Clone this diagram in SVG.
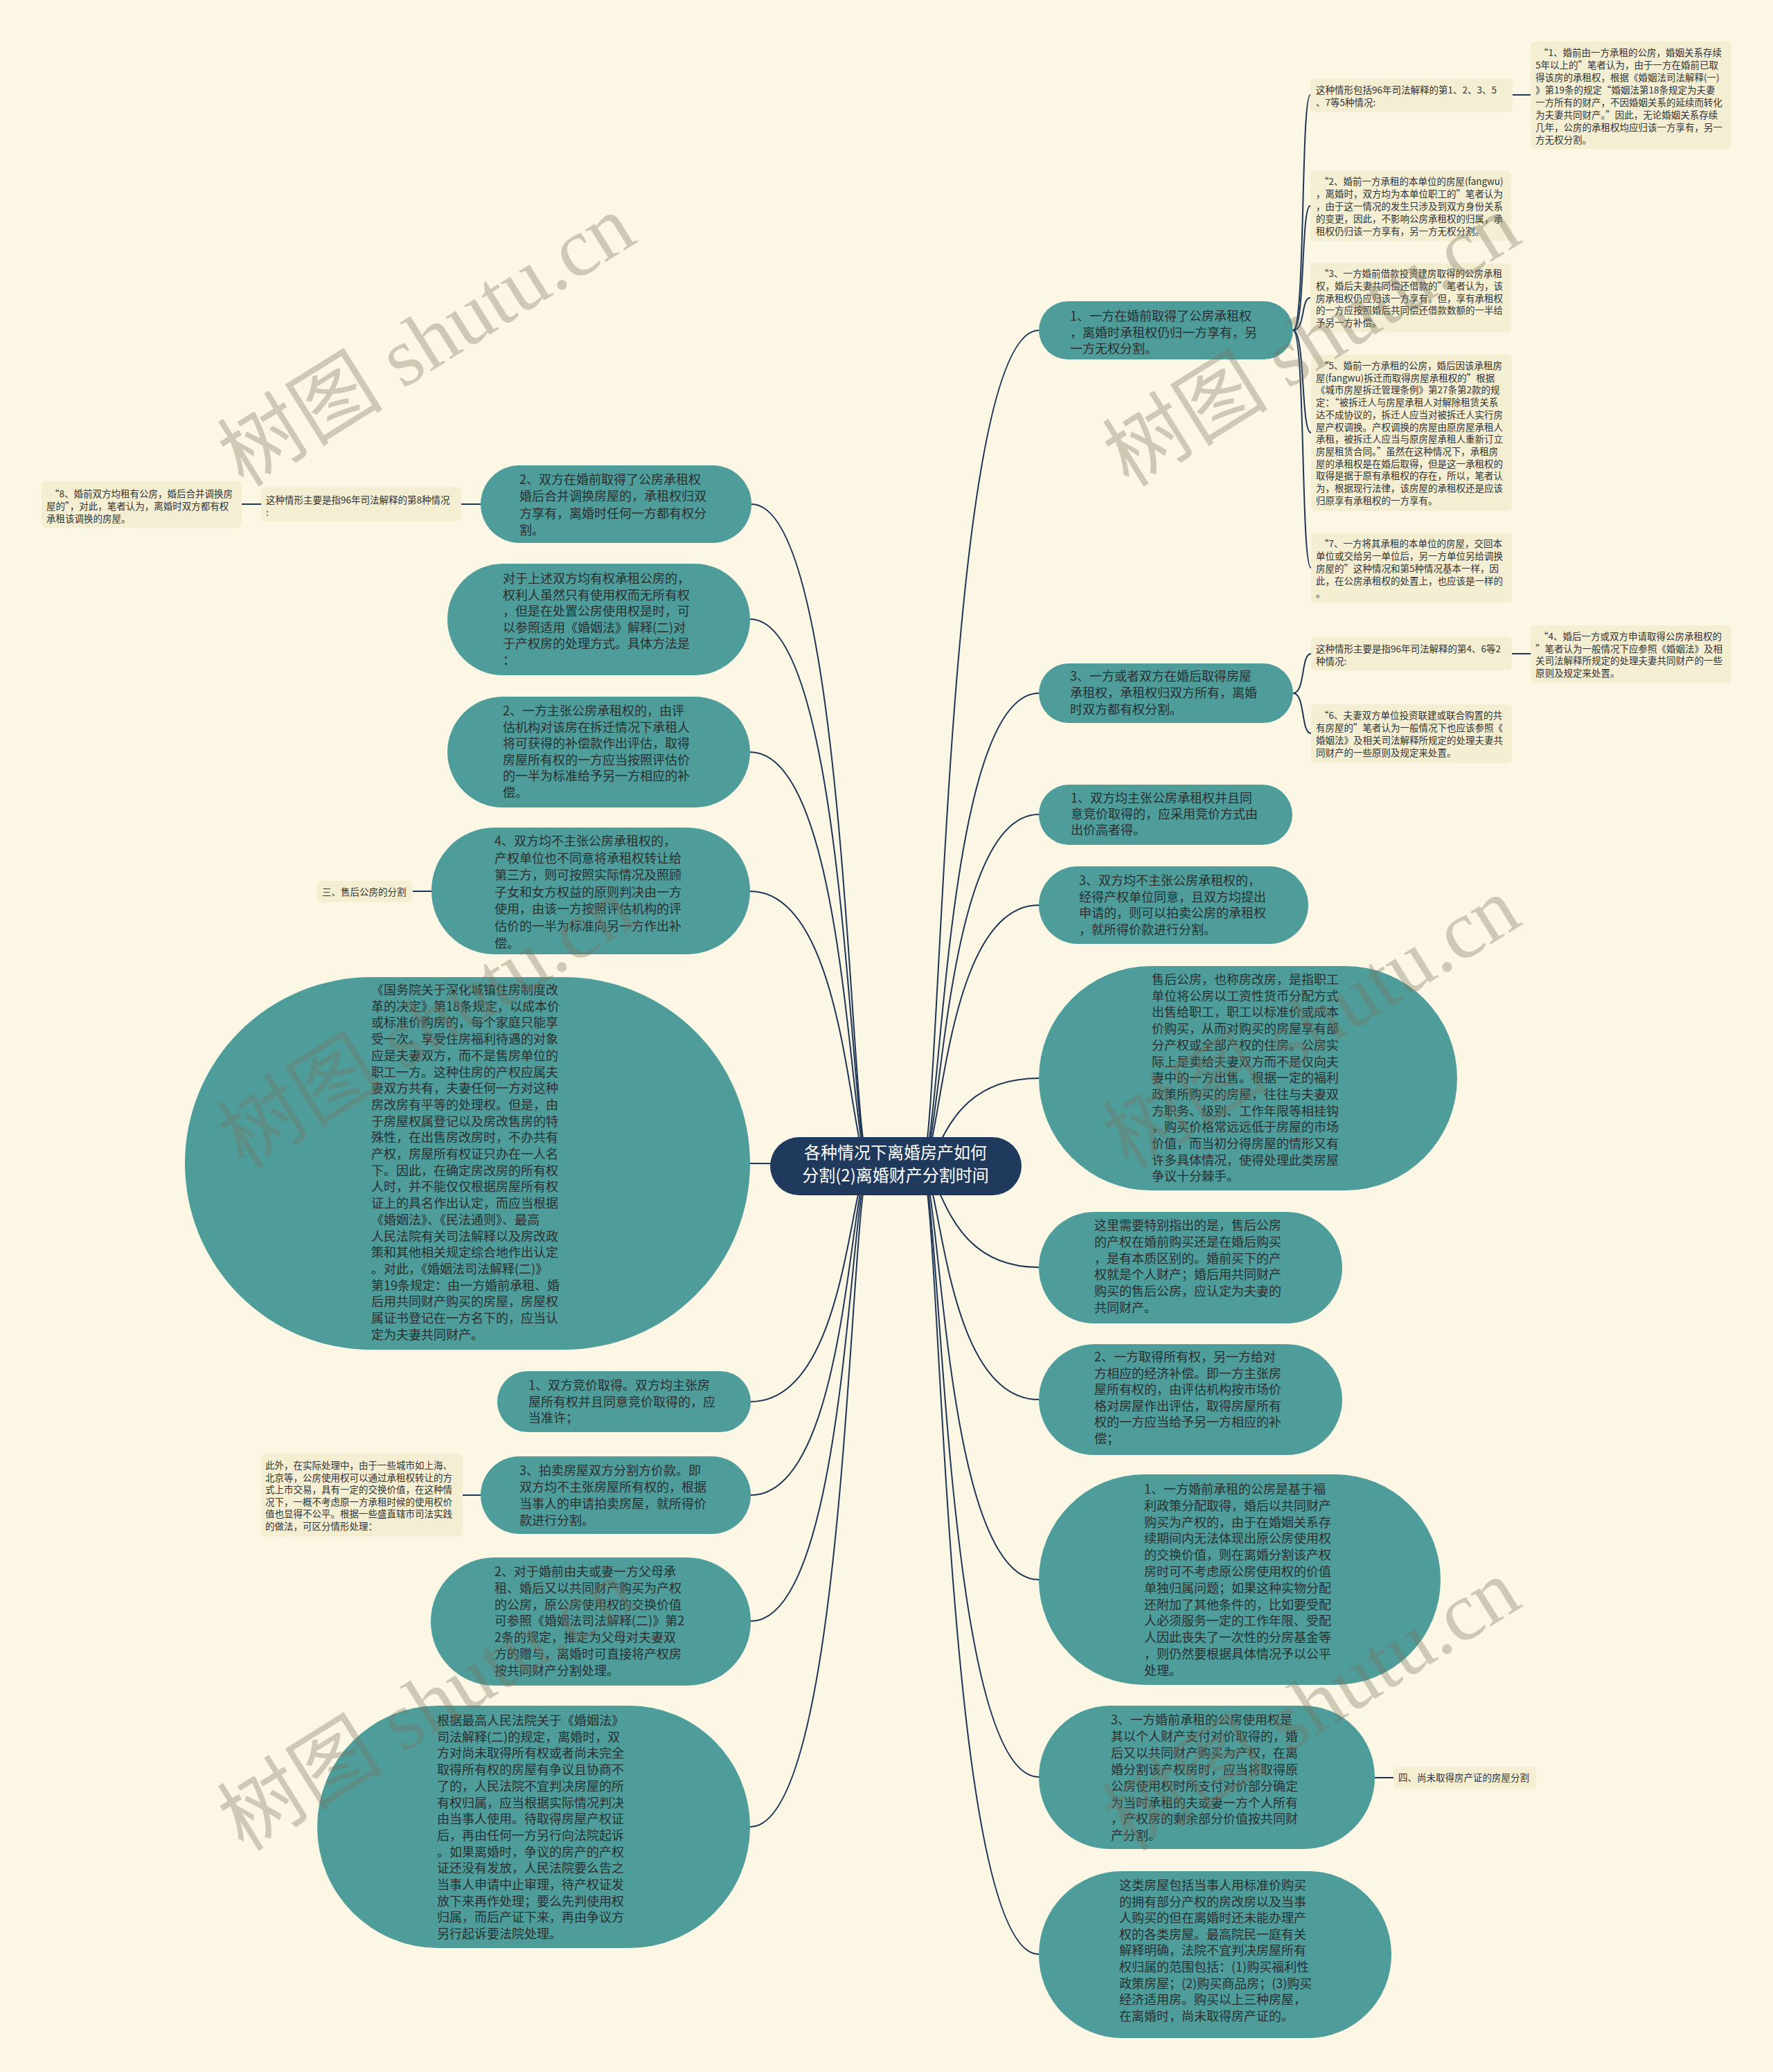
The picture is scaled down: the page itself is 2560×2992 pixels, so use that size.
<svg xmlns="http://www.w3.org/2000/svg" width="2560" height="2992" viewBox="0 0 2560 2992">
<style>
.bg{fill:#FBF7E4}
.teal{fill:#4E9D9B}
.lite{fill:#F4EFD3}
.ln{fill:none;stroke:#1E3556;stroke-width:2}
.t{font-family:"Noto Sans CJK SC","Noto Sans",sans-serif;font-size:18px;fill:#2A2F2F}
.s{font-family:"Noto Sans CJK SC","Noto Sans",sans-serif;font-size:13.5px;fill:#333}
.c{font-family:"Noto Sans CJK SC","Noto Sans",sans-serif;font-size:24px;fill:#FFFFFF;text-anchor:middle}
.wm{font-family:"Liberation Serif","Noto Sans CJK SC",serif;font-size:120px;fill:#78735F;fill-opacity:0.35}
</style>
<rect class="bg" x="0" y="0" width="2560" height="2992"/>

<g id="connectors">
<!-- center to right -->
<path class="ln" d="M1330,1684 C1360,1684 1360,477 1500,477"/>
<path class="ln" d="M1330,1684 C1360,1684 1360,1001 1500,1001"/>
<path class="ln" d="M1330,1684 C1360,1684 1360,1176 1500,1176"/>
<path class="ln" d="M1330,1684 C1360,1684 1360,1307 1500,1307"/>
<path class="ln" d="M1330,1684 C1360,1684 1360,1557 1500,1557"/>
<path class="ln" d="M1330,1684 C1360,1684 1360,1830 1500,1830"/>
<path class="ln" d="M1330,1684 C1360,1684 1360,2021 1500,2021"/>
<path class="ln" d="M1330,1684 C1360,1684 1360,2281 1500,2281"/>
<path class="ln" d="M1330,1684 C1360,1684 1360,2566 1500,2566"/>
<path class="ln" d="M1330,1684 C1360,1684 1360,2822 1500,2822"/>
<!-- center to left -->
<path class="ln" d="M1256,1684 C1226,1684 1226,728 1085,728"/>
<path class="ln" d="M1256,1684 C1226,1684 1226,894 1083,894"/>
<path class="ln" d="M1256,1684 C1226,1684 1226,1086 1083,1086"/>
<path class="ln" d="M1256,1684 C1226,1684 1226,1287 1083,1287"/>
<path class="ln" d="M1256,1684 C1226,1684 1226,1680 1083,1680"/>
<path class="ln" d="M1256,1684 C1226,1684 1226,2024 1084,2024"/>
<path class="ln" d="M1256,1684 C1226,1684 1226,2159 1084,2159"/>
<path class="ln" d="M1256,1684 C1226,1684 1226,2341 1084,2341"/>
<path class="ln" d="M1256,1684 C1226,1684 1226,2638 1083,2638"/>
<!-- R1 bracket -->
<path class="ln" d="M1867,477 C1885,477 1878,137 1892,137"/>
<path class="ln" d="M1867,477 C1885,477 1878,297 1892,297"/>
<path class="ln" d="M1867,477 C1885,477 1878,430 1892,430"/>
<path class="ln" d="M1867,477 C1885,477 1878,625 1893,625"/>
<path class="ln" d="M1867,477 C1885,477 1878,820 1893,820"/>
<path class="ln" d="M2184,137 L2210,137"/>
<!-- R3 bracket -->
<path class="ln" d="M1867,1001 C1885,1001 1878,944 1893,944"/>
<path class="ln" d="M1867,1001 C1885,1001 1878,1059 1893,1059"/>
<path class="ln" d="M2183,944 L2210,944"/>
<!-- others -->
<path class="ln" d="M694,728 L666,728"/>
<path class="ln" d="M377,728 L349,728"/>
<path class="ln" d="M623,1287 L596,1287"/>
<path class="ln" d="M694,2159 L668,2159"/>
<path class="ln" d="M1985,2567 L2012,2567"/>
</g>

<g id="center">
<rect x="1112" y="1642" width="363" height="84" rx="42" fill="#1F3A5C"/>
<text class="c" x="1293" y="1673">各种情况下离婚房产如何</text>
<text class="c" x="1293" y="1706">分割(2)离婚财产分割时间</text>
</g>

<g id="r1">
<rect class="teal" x="1500" y="435" width="367" height="84" rx="42"/>
<text class="t" x="1545" y="463"><tspan x="1545">1、一方在婚前取得了公房承租权</tspan><tspan x="1545" dy="23.5">，离婚时承租权仍归一方享有，另</tspan><tspan x="1545" dy="23.5">一方无权分割。</tspan></text>
</g>
<g id="c1a">
<rect class="lite" x="1892" y="113" width="292" height="49" rx="6"/>
<text class="s" x="1900" y="135"><tspan x="1900">这种情形包括96年司法解释的第1、2、3、5</tspan><tspan x="1900" dy="18">、7等5种情况:</tspan></text>
</g>
<g id="c1a1">
<rect class="lite" x="2210" y="60" width="290" height="155" rx="6"/>
<text class="s" x="2217" y="81"><tspan x="2222">“1、婚前由一方承租的公房，婚姻关系存续</tspan><tspan x="2217" dy="18">5年以上的”笔者认为，由于一方在婚前已取</tspan><tspan x="2217" dy="18">得该房的承租权，根据《婚姻法司法解释(一)</tspan><tspan x="2217" dy="18">》第19条的规定“婚姻法第18条规定为夫妻</tspan><tspan x="2217" dy="18">一方所有的财产，不因婚姻关系的延续而转化</tspan><tspan x="2217" dy="18">为夫妻共同财产。”因此，无论婚姻关系存续</tspan><tspan x="2217" dy="18">几年，公房的承租权均应归该一方享有，另一</tspan><tspan x="2217" dy="18">方无权分割。</tspan></text>
</g>
<g id="c1b">
<rect class="lite" x="1892" y="247" width="290" height="101" rx="6"/>
<text class="s" x="1900" y="267"><tspan x="1905">“2、婚前一方承租的本单位的房屋(fangwu)</tspan><tspan x="1900" dy="18">，离婚时，双方均为本单位职工的”笔者认为</tspan><tspan x="1900" dy="18">，由于这一情况的发生只涉及到双方身份关系</tspan><tspan x="1900" dy="18">的变更，因此，不影响公房承租权的归属，承</tspan><tspan x="1900" dy="18">租权仍归该一方享有，另一方无权分割。</tspan></text>
</g>
<g id="c1c">
<rect class="lite" x="1892" y="380" width="290" height="100" rx="6"/>
<text class="s" x="1900" y="400"><tspan x="1905">“3、一方婚前借款投资建房取得的公房承租</tspan><tspan x="1900" dy="17.8">权，婚后夫妻共同偿还借款的”笔者认为，该</tspan><tspan x="1900" dy="17.8">房承租权仍应归该一方享有。但，享有承租权</tspan><tspan x="1900" dy="17.8">的一方应按照婚后共同偿还借款数额的一半给</tspan><tspan x="1900" dy="17.8">予另一方补偿。</tspan></text>
</g>
<g id="c1d">
<rect class="lite" x="1893" y="512" width="290" height="226" rx="6"/>
<text class="s" x="1900" y="533"><tspan x="1905">“5、婚前一方承租的公房，婚后因该承租房</tspan><tspan x="1900" dy="17.7">屋(fangwu)拆迁而取得房屋承租权的”根据</tspan><tspan x="1900" dy="17.7">《城市房屋拆迁管理条例》第27条第2款的规</tspan><tspan x="1900" dy="17.7">定：“被拆迁人与房屋承租人对解除租赁关系</tspan><tspan x="1900" dy="17.7">达不成协议的，拆迁人应当对被拆迁人实行房</tspan><tspan x="1900" dy="17.7">屋产权调换。产权调换的房屋由原房屋承租人</tspan><tspan x="1900" dy="17.7">承租，被拆迁人应当与原房屋承租人重新订立</tspan><tspan x="1900" dy="17.7">房屋租赁合同。”虽然在这种情况下，承租房</tspan><tspan x="1900" dy="17.7">屋的承租权是在婚后取得，但是这一承租权的</tspan><tspan x="1900" dy="17.7">取得是据于原有承租权的存在，所以，笔者认</tspan><tspan x="1900" dy="17.7">为，根据现行法律，该房屋的承租权还是应该</tspan><tspan x="1900" dy="17.7">归原享有承租权的一方享有。</tspan></text>
</g>
<g id="c1e">
<rect class="lite" x="1893" y="770" width="290" height="100" rx="6"/>
<text class="s" x="1900" y="790"><tspan x="1905">“7、一方将其承租的本单位的房屋，交回本</tspan><tspan x="1900" dy="18">单位或交给另一单位后，另一方单位另给调换</tspan><tspan x="1900" dy="18">房屋的”这种情况和第5种情况基本一样，因</tspan><tspan x="1900" dy="18">此，在公房承租权的处置上，也应该是一样的</tspan><tspan x="1900" dy="18">。</tspan></text>
</g>

<g id="r3">
<rect class="teal" x="1500" y="958" width="367" height="86" rx="43"/>
<text class="t" x="1545" y="983"><tspan x="1545">3、一方或者双方在婚后取得房屋</tspan><tspan x="1545" dy="24">承租权，承租权归双方所有，离婚</tspan><tspan x="1545" dy="24">时双方都有权分割。</tspan></text>
</g>
<g id="c3a">
<rect class="lite" x="1893" y="920" width="290" height="48" rx="6"/>
<text class="s" x="1900" y="942"><tspan x="1900">这种情形主要是指96年司法解释的第4、6等2</tspan><tspan x="1900" dy="18">种情况:</tspan></text>
</g>
<g id="c3a1">
<rect class="lite" x="2210" y="903" width="290" height="83" rx="6"/>
<text class="s" x="2217" y="924"><tspan x="2222">“4、婚后一方或双方申请取得公房承租权的</tspan><tspan x="2217" dy="17.7">”笔者认为一般情况下应参照《婚姻法》及相</tspan><tspan x="2217" dy="17.7">关司法解释所规定的处理夫妻共同财产的一些</tspan><tspan x="2217" dy="17.7">原则及规定来处置。</tspan></text>
</g>
<g id="c3b">
<rect class="lite" x="1893" y="1017" width="290" height="85" rx="6"/>
<text class="s" x="1900" y="1038"><tspan x="1905">“6、夫妻双方单位投资联建或联合购置的共</tspan><tspan x="1900" dy="18">有房屋的”笔者认为一般情况下也应该参照《</tspan><tspan x="1900" dy="18">婚姻法》及相关司法解释所规定的处理夫妻共</tspan><tspan x="1900" dy="18">同财产的一些原则及规定来处置。</tspan></text>
</g>

<g id="r4">
<rect class="teal" x="1500" y="1133" width="366" height="87" rx="43.5"/>
<text class="t" x="1546" y="1159"><tspan x="1546">1、双方均主张公房承租权并且同</tspan><tspan x="1546" dy="23">意竞价取得的，应采用竞价方式由</tspan><tspan x="1546" dy="23">出价高者得。</tspan></text>
</g>
<g id="r5">
<rect class="teal" x="1500" y="1251" width="389" height="112" rx="56"/>
<text class="t" x="1558" y="1278"><tspan x="1558">3、双方均不主张公房承租权的，</tspan><tspan x="1558" dy="23.5">经得产权单位同意，且双方均提出</tspan><tspan x="1558" dy="23.5">申请的，则可以拍卖公房的承租权</tspan><tspan x="1558" dy="23.5">，就所得价款进行分割。</tspan></text>
</g>
<g id="r6">
<rect class="teal" x="1500" y="1395" width="604" height="324" rx="162"/>
<text class="t" x="1663" y="1421"><tspan x="1663">售后公房，也称房改房，是指职工</tspan><tspan x="1663" dy="23.7">单位将公房以工资性货币分配方式</tspan><tspan x="1663" dy="23.7">出售给职工，职工以标准价或成本</tspan><tspan x="1663" dy="23.7">价购买，从而对购买的房屋享有部</tspan><tspan x="1663" dy="23.7">分产权或全部产权的住房。公房实</tspan><tspan x="1663" dy="23.7">际上是卖给夫妻双方而不是仅向夫</tspan><tspan x="1663" dy="23.7">妻中的一方出售。根据一定的福利</tspan><tspan x="1663" dy="23.7">政策所购买的房屋，往往与夫妻双</tspan><tspan x="1663" dy="23.7">方职务、级别、工作年限等相挂钩</tspan><tspan x="1663" dy="23.7">，购买价格常远远低于房屋的市场</tspan><tspan x="1663" dy="23.7">价值，而当初分得房屋的情形又有</tspan><tspan x="1663" dy="23.7">许多具体情况，使得处理此类房屋</tspan><tspan x="1663" dy="23.7">争议十分棘手。</tspan></text>
</g>
<g id="r7">
<rect class="teal" x="1500" y="1750" width="438" height="161" rx="80"/>
<text class="t" x="1580" y="1776"><tspan x="1580">这里需要特别指出的是，售后公房</tspan><tspan x="1580" dy="23.8">的产权在婚前购买还是在婚后购买</tspan><tspan x="1580" dy="23.8">，是有本质区别的。婚前买下的产</tspan><tspan x="1580" dy="23.8">权就是个人财产；婚后用共同财产</tspan><tspan x="1580" dy="23.8">购买的售后公房，应认定为夫妻的</tspan><tspan x="1580" dy="23.8">共同财产。</tspan></text>
</g>
<g id="r8">
<rect class="teal" x="1500" y="1941" width="438" height="160" rx="80"/>
<text class="t" x="1580" y="1966"><tspan x="1580">2、一方取得所有权，另一方给对</tspan><tspan x="1580" dy="23.6">方相应的经济补偿。即一方主张房</tspan><tspan x="1580" dy="23.6">屋所有权的，由评估机构按市场价</tspan><tspan x="1580" dy="23.6">格对房屋作出评估，取得房屋所有</tspan><tspan x="1580" dy="23.6">权的一方应当给予另一方相应的补</tspan><tspan x="1580" dy="23.6">偿；</tspan></text>
</g>
<g id="r9">
<rect class="teal" x="1500" y="2129" width="580" height="304" rx="152"/>
<text class="t" x="1652" y="2157"><tspan x="1652">1、一方婚前承租的公房是基于福</tspan><tspan x="1652" dy="23.8">利政策分配取得，婚后以共同财产</tspan><tspan x="1652" dy="23.8">购买为产权的，由于在婚姻关系存</tspan><tspan x="1652" dy="23.8">续期间内无法体现出原公房使用权</tspan><tspan x="1652" dy="23.8">的交换价值，则在离婚分割该产权</tspan><tspan x="1652" dy="23.8">房时可不考虑原公房使用权的价值</tspan><tspan x="1652" dy="23.8">单独归属问题；如果这种实物分配</tspan><tspan x="1652" dy="23.8">还附加了其他条件的，比如要受配</tspan><tspan x="1652" dy="23.8">人必须服务一定的工作年限、受配</tspan><tspan x="1652" dy="23.8">人因此丧失了一次性的分房基金等</tspan><tspan x="1652" dy="23.8">，则仍然要根据具体情况予以公平</tspan><tspan x="1652" dy="23.8">处理。</tspan></text>
</g>
<g id="r10">
<rect class="teal" x="1500" y="2463" width="485" height="207" rx="103"/>
<text class="t" x="1604" y="2490"><tspan x="1604">3、一方婚前承租的公房使用权是</tspan><tspan x="1604" dy="23.9">其以个人财产支付对价取得的，婚</tspan><tspan x="1604" dy="23.9">后又以共同财产购买为产权，在离</tspan><tspan x="1604" dy="23.9">婚分割该产权房时，应当将取得原</tspan><tspan x="1604" dy="23.9">公房使用权时所支付对价部分确定</tspan><tspan x="1604" dy="23.9">为当时承租的夫或妻一方个人所有</tspan><tspan x="1604" dy="23.9">，产权房的剩余部分价值按共同财</tspan><tspan x="1604" dy="23.9">产分割。</tspan></text>
</g>
<g id="r10a">
<rect class="lite" x="2012" y="2551" width="206" height="32" rx="6"/>
<text class="s" x="2019" y="2572">四、尚未取得房产证的房屋分割</text>
</g>
<g id="r11">
<rect class="teal" x="1500" y="2702" width="509" height="241" rx="120"/>
<text class="t" x="1616" y="2729"><tspan x="1616">这类房屋包括当事人用标准价购买</tspan><tspan x="1616" dy="23.6">的拥有部分产权的房改房以及当事</tspan><tspan x="1616" dy="23.6">人购买的但在离婚时还未能办理产</tspan><tspan x="1616" dy="23.6">权的各类房屋。最高院民一庭有关</tspan><tspan x="1616" dy="23.6">解释明确，法院不宜判决房屋所有</tspan><tspan x="1616" dy="23.6">权归属的范围包括：(1)购买福利性</tspan><tspan x="1616" dy="23.6">政策房屋；(2)购买商品房；(3)购买</tspan><tspan x="1616" dy="23.6">经济适用房。购买以上三种房屋，</tspan><tspan x="1616" dy="23.6">在离婚时，尚未取得房产证的。</tspan></text>
</g>

<g id="l1">
<rect class="teal" x="694" y="672" width="391" height="112" rx="56"/>
<text class="t" x="750" y="699"><tspan x="750">2、双方在婚前取得了公房承租权</tspan><tspan x="750" dy="24.3">婚后合并调换房屋的，承租权归双</tspan><tspan x="750" dy="24.3">方享有，离婚时任何一方都有权分</tspan><tspan x="750" dy="24.3">割。</tspan></text>
</g>
<g id="l1a">
<rect class="lite" x="377" y="703" width="289" height="50" rx="6"/>
<text class="s" x="384" y="727"><tspan x="384">这种情形主要是指96年司法解释的第8种情况</tspan><tspan x="384" dy="18">:</tspan></text>
</g>
<g id="l1a1">
<rect class="lite" x="60" y="695" width="289" height="67" rx="6"/>
<text class="s" x="67" y="718"><tspan x="72">“8、婚前双方均租有公房，婚后合并调换房</tspan><tspan x="67" dy="18">屋的”，对此，笔者认为，离婚时双方都有权</tspan><tspan x="67" dy="18">承租该调换的房屋。</tspan></text>
</g>
<g id="l2">
<rect class="teal" x="646" y="814" width="437" height="161" rx="80"/>
<text class="t" x="726" y="842"><tspan x="726">对于上述双方均有权承租公房的，</tspan><tspan x="726" dy="23.6">权利人虽然只有使用权而无所有权</tspan><tspan x="726" dy="23.6">，但是在处置公房使用权是时，可</tspan><tspan x="726" dy="23.6">以参照适用《婚姻法》解释(二)对</tspan><tspan x="726" dy="23.6">于产权房的处理方式。具体方法是</tspan><tspan x="726" dy="23.6">：</tspan></text>
</g>
<g id="l3">
<rect class="teal" x="646" y="1006" width="437" height="160" rx="80"/>
<text class="t" x="726" y="1033"><tspan x="726">2、一方主张公房承租权的，由评</tspan><tspan x="726" dy="23.6">估机构对该房在拆迁情况下承租人</tspan><tspan x="726" dy="23.6">将可获得的补偿款作出评估，取得</tspan><tspan x="726" dy="23.6">房屋所有权的一方应当按照评估价</tspan><tspan x="726" dy="23.6">的一半为标准给予另一方相应的补</tspan><tspan x="726" dy="23.6">偿。</tspan></text>
</g>
<g id="l4">
<rect class="teal" x="623" y="1195" width="460" height="183" rx="91"/>
<text class="t" x="714" y="1221"><tspan x="714">4、双方均不主张公房承租权的，</tspan><tspan x="714" dy="24.6">产权单位也不同意将承租权转让给</tspan><tspan x="714" dy="24.6">第三方，则可按照实际情况及照顾</tspan><tspan x="714" dy="24.6">子女和女方权益的原则判决由一方</tspan><tspan x="714" dy="24.6">使用，由该一方按照评估机构的评</tspan><tspan x="714" dy="24.6">估价的一半为标准向另一方作出补</tspan><tspan x="714" dy="24.6">偿。</tspan></text>
</g>
<g id="l4a">
<rect class="lite" x="458" y="1272" width="138" height="31" rx="6"/>
<text class="s" x="465" y="1293">三、售后公房的分割</text>
</g>
<g id="l5">
<rect class="teal" x="267" y="1411" width="816" height="538" rx="269"/>
<text class="t" x="536" y="1436"><tspan x="536">《国务院关于深化城镇住房制度改</tspan><tspan x="536" dy="23.7">革的决定》第18条规定，以成本价</tspan><tspan x="536" dy="23.7">或标准价购房的，每个家庭只能享</tspan><tspan x="536" dy="23.7">受一次。享受住房福利待遇的对象</tspan><tspan x="536" dy="23.7">应是夫妻双方，而不是售房单位的</tspan><tspan x="536" dy="23.7">职工一方。这种住房的产权应属夫</tspan><tspan x="536" dy="23.7">妻双方共有，夫妻任何一方对这种</tspan><tspan x="536" dy="23.7">房改房有平等的处理权。但是，由</tspan><tspan x="536" dy="23.7">于房屋权属登记以及房改售房的特</tspan><tspan x="536" dy="23.7">殊性，在出售房改房时，不办共有</tspan><tspan x="536" dy="23.7">产权，房屋所有权证只办在一人名</tspan><tspan x="536" dy="23.7">下。因此，在确定房改房的所有权</tspan><tspan x="536" dy="23.7">人时，并不能仅仅根据房屋所有权</tspan><tspan x="536" dy="23.7">证上的具名作出认定，而应当根据</tspan><tspan x="536" dy="23.7">《婚姻法》、《民法通则》、最高</tspan><tspan x="536" dy="23.7">人民法院有关司法解释以及房改政</tspan><tspan x="536" dy="23.7">策和其他相关规定综合地作出认定</tspan><tspan x="536" dy="23.7">。对此，《婚姻法司法解释(二)》</tspan><tspan x="536" dy="23.7">第19条规定：由一方婚前承租、婚</tspan><tspan x="536" dy="23.7">后用共同财产购买的房屋，房屋权</tspan><tspan x="536" dy="23.7">属证书登记在一方名下的，应当认</tspan><tspan x="536" dy="23.7">定为夫妻共同财产。</tspan></text>
</g>
<g id="l6">
<rect class="teal" x="718" y="1980" width="366" height="88" rx="44"/>
<text class="t" x="763" y="2007"><tspan x="763">1、双方竞价取得。双方均主张房</tspan><tspan x="763" dy="23.5">屋所有权并且同意竞价取得的，应</tspan><tspan x="763" dy="23.5">当准许；</tspan></text>
</g>
<g id="l7">
<rect class="teal" x="694" y="2103" width="390" height="112" rx="56"/>
<text class="t" x="750" y="2130"><tspan x="750">3、拍卖房屋双方分割方价款。即</tspan><tspan x="750" dy="24">双方均不主张房屋所有权的，根据</tspan><tspan x="750" dy="24">当事人的申请拍卖房屋，就所得价</tspan><tspan x="750" dy="24">款进行分割。</tspan></text>
</g>
<g id="l7a">
<rect class="lite" x="377" y="2099" width="291" height="120" rx="6"/>
<text class="s" x="383" y="2121"><tspan x="383">此外，在实际处理中，由于一些城市如上海、</tspan><tspan x="383" dy="17.6">北京等，公房使用权可以通过承租权转让的方</tspan><tspan x="383" dy="17.6">式上市交易，具有一定的交换价值，在这种情</tspan><tspan x="383" dy="17.6">况下，一概不考虑原一方承租时候的使用权价</tspan><tspan x="383" dy="17.6">值也显得不公平。根据一些盛直辖市司法实践</tspan><tspan x="383" dy="17.6">的做法，可区分情形处理：</tspan></text>
</g>
<g id="l8">
<rect class="teal" x="622" y="2249" width="462" height="185" rx="92"/>
<text class="t" x="714" y="2276"><tspan x="714">2、对于婚前由夫或妻一方父母承</tspan><tspan x="714" dy="23.8">租、婚后又以共同财产购买为产权</tspan><tspan x="714" dy="23.8">的公房，原公房使用权的交换价值</tspan><tspan x="714" dy="23.8">可参照《婚姻法司法解释(二)》第2</tspan><tspan x="714" dy="23.8">2条的规定，推定为父母对夫妻双</tspan><tspan x="714" dy="23.8">方的赠与，离婚时可直接将产权房</tspan><tspan x="714" dy="23.8">按共同财产分割处理。</tspan></text>
</g>
<g id="l9">
<rect class="teal" x="458" y="2463" width="625" height="350" rx="175"/>
<text class="t" x="631" y="2491"><tspan x="631">根据最高人民法院关于《婚姻法》</tspan><tspan x="631" dy="23.7">司法解释(二)的规定，离婚时，双</tspan><tspan x="631" dy="23.7">方对尚未取得所有权或者尚未完全</tspan><tspan x="631" dy="23.7">取得所有权的房屋有争议且协商不</tspan><tspan x="631" dy="23.7">了的，人民法院不宜判决房屋的所</tspan><tspan x="631" dy="23.7">有权归属，应当根据实际情况判决</tspan><tspan x="631" dy="23.7">由当事人使用。待取得房屋产权证</tspan><tspan x="631" dy="23.7">后，再由任何一方另行向法院起诉</tspan><tspan x="631" dy="23.7">。如果离婚时，争议的房产的产权</tspan><tspan x="631" dy="23.7">证还没有发放，人民法院要么告之</tspan><tspan x="631" dy="23.7">当事人申请中止审理，待产权证发</tspan><tspan x="631" dy="23.7">放下来再作处理；要么先判使用权</tspan><tspan x="631" dy="23.7">归属，而后产证下来，再由争议方</tspan><tspan x="631" dy="23.7">另行起诉要法院处理。</tspan></text>
</g>

<g id="watermarks">
<text class="wm" x="352" y="705" transform="rotate(-32 352 705)">树图 shutu.cn</text>
<text class="wm" x="1630" y="705" transform="rotate(-32 1630 705)">树图 shutu.cn</text>
<text class="wm" x="352" y="1690" transform="rotate(-32 352 1690)">树图 shutu.cn</text>
<text class="wm" x="1630" y="1690" transform="rotate(-32 1630 1690)">树图 shutu.cn</text>
<text class="wm" x="352" y="2675" transform="rotate(-32 352 2675)">树图 shutu.cn</text>
<text class="wm" x="1630" y="2675" transform="rotate(-32 1630 2675)">树图 shutu.cn</text>
</g>
</svg>
